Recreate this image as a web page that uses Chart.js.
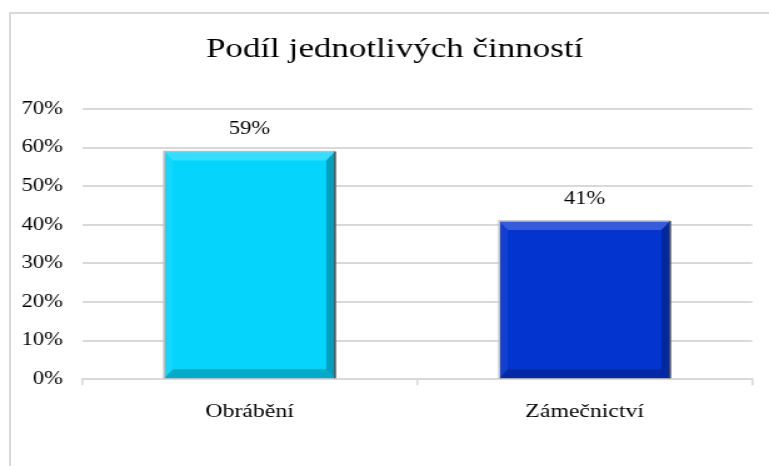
<!DOCTYPE html>
<html>
<head>
<meta charset="utf-8">
<script src="https://cdn.jsdelivr.net/npm/chart.js@4"></script>
<style>
  html, body { margin: 0; padding: 0; background: #fff; overflow: hidden; }
  #wrap { position: relative; width: 769px; height: 466px; }
  #frame { position: absolute; left: 9px; top: 12px; width: 820px; height: 520px;
           border: 2px solid #d9d9d9; box-sizing: border-box; pointer-events: none; }
  canvas { position: absolute; left: 0; top: 0; }
</style>
</head>
<body>
<div id="wrap">
  <!-- drawn narrow and stretched, like the wide serif text of the original -->
  <canvas id="chart" width="615" height="466" style="width:769px;height:466px"></canvas>
  <div id="frame"></div>
</div>
<script>
  const titleText = 'Podíl jednotlivých činností';
  const categories = ['Obrábění', 'Zámečnictví'];
  const shares = [0.59, 0.41];
  const barColors = ['#05d5fc', '#0434d0'];
  const yTicks = [0, 0.1, 0.2, 0.3, 0.4, 0.5, 0.6, 0.7];

  const serif = '"Liberation Serif", "Times New Roman", serif';
  const pct = v => Math.round(v * 100) + '%';

  // title sits a bit left of the plot centre in the original
  const chartTitle = {
    id: 'chartTitle',
    afterDraw(chart) {
      const c = chart.ctx;
      c.save();
      c.font = '28px ' + serif;
      c.fillStyle = '#000';
      c.textAlign = 'center';
      c.textBaseline = 'middle';
      c.fillText(titleText, 315.6, 50);
      c.restore();
    }
  };

  // fake Excel-style bevel on each bar
  const bevel = {
    id: 'bevel',
    afterDatasetsDraw(chart) {
      const c = chart.ctx;
      chart.getDatasetMeta(0).data.forEach(bar => {
        const l = bar.x - bar.width / 2, r = bar.x + bar.width / 2;
        const t = bar.y, b = bar.base, sx = 7, sy = 9;
        c.save();
        const poly = (pts, col) => {
          c.beginPath();
          c.moveTo(pts[0][0], pts[0][1]);
          pts.slice(1).forEach(p => c.lineTo(p[0], p[1]));
          c.closePath();
          c.fillStyle = col;
          c.fill();
        };
        poly([[l, t], [r, t], [r - sx, t + sy], [l + sx, t + sy]], 'rgba(255,255,255,0.2)');
        poly([[r, t], [r, b], [r - sx, b - sy], [r - sx, t + sy]], 'rgba(0,0,0,0.25)');
        poly([[l, b], [r, b], [r - sx, b - sy], [l + sx, b - sy]], 'rgba(0,0,0,0.2)');
        poly([[l, t], [l + sx, t + sy], [l + sx, b - sy], [l, b]], 'rgba(255,255,255,0.06)');
        c.lineWidth = 1.6;
        c.strokeStyle = '#bdbdbd';
        c.beginPath(); c.moveTo(l, b); c.lineTo(l, t); c.lineTo(r, t); c.stroke();
        c.strokeStyle = '#555';
        c.beginPath(); c.moveTo(r, t); c.lineTo(r, b); c.stroke();
        c.restore();
      });
    }
  };

  const valueLabels = {
    id: 'valueLabels',
    afterDatasetsDraw(chart) {
      const c = chart.ctx;
      c.save();
      c.font = '18px ' + serif;
      c.fillStyle = '#000';
      c.textAlign = 'center';
      c.textBaseline = 'middle';
      chart.getDatasetMeta(0).data.forEach((bar, i) => {
        c.fillText(pct(shares[i]), bar.x, bar.y - 22);
      });
      c.restore();
    }
  };

  new Chart(document.getElementById('chart'), {
    type: 'bar',
    data: {
      labels: categories,
      datasets: [{
        data: shares,
        backgroundColor: barColors,
        borderWidth: 0,
        barPercentage: 0.51,
        categoryPercentage: 1
      }]
    },
    options: {
      responsive: false,
      animation: false,
      layout: { padding: { left: 0, right: 13.4, top: 109, bottom: 28 } },
      plugins: {
        legend: { display: false },
        tooltip: { enabled: false },
        title: { display: false }
      },
      scales: {
        x: {
          grid: { display: true, drawOnChartArea: false, drawTicks: true, tickLength: 6,
                  color: '#d9d9d9', lineWidth: 1.6, offset: true },
          border: { display: true, color: '#d9d9d9', width: 2 },
          ticks: { color: '#000', padding: 15, font: { family: serif, size: 19 } }
        },
        y: {
          min: 0,
          max: 0.7,
          afterFit(scale) { scale.width = 65.6; },
          afterBuildTicks(scale) { scale.ticks = yTicks.map(v => ({ value: v })); },
          grid: { color: '#d9d9d9', lineWidth: 2, drawTicks: false },
          border: { display: false },
          ticks: { color: '#000', padding: 15.4, callback: v => pct(v),
                   font: { family: serif, size: 18 } }
        }
      }
    },
    plugins: [bevel, valueLabels, chartTitle]
  });
</script>
</body>
</html>
